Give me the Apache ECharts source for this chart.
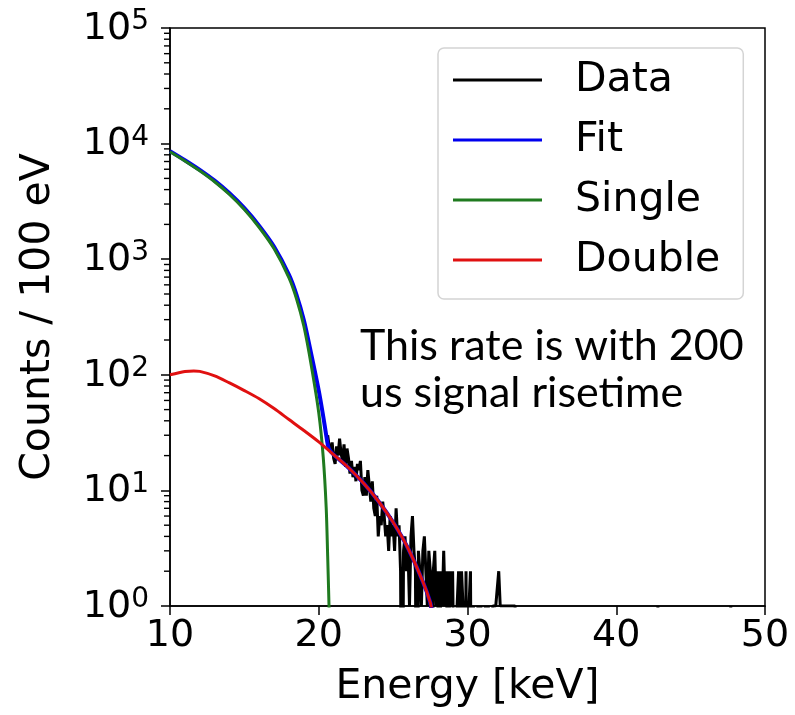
<!DOCTYPE html>
<html>
<head>
<meta charset="utf-8">
<script src="https://cdn.jsdelivr.net/npm/echarts@6/dist/echarts.min.js"></script>
<style>
html,body{margin:0;padding:0;background:#fff;}
#chart{width:795px;height:715px;}
</style>
</head>
<body>
<div id="chart"></div>
<script>
// ---- Data ----
const xTicks = [10, 20, 30, 40, 50];
const yMinorTicks = [2,3,4,5,6,7,8,9,20,30,40,50,60,70,80,90,200,300,400,500,600,700,800,900,
  2000,3000,4000,5000,6000,7000,8000,9000,20000,30000,40000,50000,60000,70000,80000,90000];

// Single (green) curve: energy [keV], counts
const singleE = [10, 11, 12, 13, 14, 15, 16, 17, 18, 18.5, 19, 19.5, 20, 20.3, 20.5, 20.6, 20.7];
const singleV = [8510, 7080, 5820, 4680, 3630, 2690, 1880, 1230, 690, 457, 263, 120, 47, 19.5, 7.1, 2.7, 0.9];

// Double (red) curve
const doubleE = [10, 11, 11.6, 12, 13, 14, 15, 16, 17, 18, 19, 20, 21, 22, 23, 24, 25, 26, 27, 27.5, 27.6];
const doubleV = [100, 107, 108, 107, 98, 85, 73, 62, 51, 41, 33, 26.3, 20.4, 15.7, 11.6, 8.1, 5.3, 3.16, 1.62, 1.07, 0.9];

// Fit (blue) curve
const fitE = [10, 11, 12, 13, 14, 15, 16, 17, 18, 18.5, 19, 19.5, 20, 20.3, 20.5, 20.6, 20.7, 21, 22, 23, 24, 25, 26, 27, 27.5, 27.6];
const fitV = [8610, 7187, 5927, 4778, 3715, 2763, 1942, 1281, 731, 494, 296, 150, 73, 43.8, 30.1, 25.1, 22.7, 20.4, 15.7, 11.6, 8.1, 5.3, 3.16, 1.62, 1.07, 0.9];

// Data (black) histogram counts per 100 eV bin, starting at 20.6 keV
const dataStart = 20.6;
const dataBin = 0.1;
const dataCounts = [30, 24, 22, 26, 19, 17, 24, 20, 28, 21,
  18, 25, 16, 23, 19, 14, 18, 13, 16, 12,
  17, 15, 18, 10, 9, 13, 9, 15, 11, 8,
  12, 7, 6, 9, 4, 6, 5, 8, 6, 4,
  5, 3, 6, 4, 5, 3, 7, 4, 5, 2,
  0, 3, 4, 2, 3, 1, 4, 6, 3, 2,
  0, 3, 2, 1, 3, 4, 2, 1, 3, 2,
  0, 2, 3, 1, 2, 0, 2, 1, 3, 1,
  2, 0, 2, 1, 2, 2, 0, 1, 2, 0,
  2, 1, 0, 2, 0, 1, 2, 0, 1, 1,
  0, 1, 0, 1, 1, 0, 1, 0, 1, 0,
  0, 1, 1, 1, 1, 2, 1, 1, 1, 1,
  1, 1, 1, 1, 1, 1, 1, 0];
// sparse tail of the data (energy, counts)
const dataTail = [[33.5, 0], [42.7, 0], [42.8, 1], [42.9, 0], [47.6, 0], [47.7, 1], [47.8, 0], [50, 0]];

const annotationLines = ['This rate is with 200', 'us signal risetime'];

// ---- Build series data ----
const ZERO_FLOOR = 0.01; // zero counts drawn below the log axis (clipped)
function pairs(xs, ys) { return xs.map((x, i) => [x, ys[i]]); }
const dataSeries = dataCounts.map((c, i) => [+(dataStart + i * dataBin).toFixed(2), c > 0 ? c : ZERO_FLOOR])
  .concat(dataTail.map(p => [p[0], p[1] > 0 ? p[1] : ZERO_FLOOR]));

const chart = echarts.init(document.getElementById('chart'), null, {renderer: 'canvas'});
const FONT = 'DejaVu Sans';

const textGraphics = [
  {type: 'text', left: 360, top: 325, style: {text: annotationLines[0], font: '43px Lato', fill: '#000'}},
  {type: 'text', left: 360, top: 372, style: {text: annotationLines[1], font: '43px Lato', fill: '#000'}}
];

const option = {
  backgroundColor: '#ffffff',
  animation: false,
  grid: {left: 170, right: 30, top: 28, bottom: 109, show: true, borderColor: '#000', borderWidth: 1.5, backgroundColor: 'transparent'},
  xAxis: {
    type: 'value', min: 10, max: 50, interval: 10,
    name: 'Energy [keV]', nameLocation: 'middle', nameGap: 61,
    nameTextStyle: {fontFamily: FONT, fontSize: 41, color: '#000'},
    axisLine: {show: true, onZero: false, lineStyle: {color: '#000', width: 1.5}},
    axisTick: {show: true, inside: false, length: 9, lineStyle: {color: '#000', width: 1.5}},
    axisLabel: {fontFamily: FONT, fontSize: 38, color: '#000', margin: 11,
      formatter: v => xTicks.includes(v) ? String(v) : ''},
    splitLine: {show: false}
  },
  yAxis: {
    type: 'log', logBase: 10, min: 1, max: 100000,
    name: 'Counts / 100 eV', nameLocation: 'middle', nameGap: 111, nameRotate: 90,
    nameTextStyle: {fontFamily: FONT, fontSize: 41, color: '#000'},
    axisLine: {show: true, lineStyle: {color: '#000', width: 1.5}},
    axisTick: {show: true, inside: false, length: 9, lineStyle: {color: '#000', width: 1.5}},
    axisLabel: {
      margin: 21, color: '#000',
      formatter: function (v) {
        const e = Math.round(Math.log10(v));
        return '{b|10}{s|' + e + '}';
      },
      rich: {
        b: {fontFamily: FONT, fontSize: 38, color: '#000', verticalAlign: 'bottom', lineHeight: 40},
        s: {fontFamily: FONT, fontSize: 28, color: '#000', verticalAlign: 'top', lineHeight: 40, padding: [0, 0, 14, 0]}
      }
    },
    splitLine: {show: false}
  },
  legend: {
    orient: 'vertical', left: 438, top: 48,
    data: [
      {name: 'Data', itemStyle: {color: '#000'}},
      {name: 'Fit', itemStyle: {color: '#0000ee'}},
      {name: 'Single', itemStyle: {color: '#1f7a1f'}},
      {name: 'Double', itemStyle: {color: '#e01010'}}
    ],
    icon: 'rect', itemWidth: 89, itemHeight: 3, itemGap: 16,
    padding: [10, 23, 17, 15],
    backgroundColor: '#fff', borderColor: '#d4d4d4', borderWidth: 1.5, borderRadius: 6,
    textStyle: {fontFamily: FONT, fontSize: 41, color: '#000', lineHeight: 44, padding: [0, 0, 0, 28]}
  },
  series: [
    {name: 'Data', type: 'line', data: dataSeries, showSymbol: false, smooth: false,
      lineStyle: {color: '#000', width: 3}, itemStyle: {color: '#000'}, clip: true, z: 2},
    {name: 'Fit', type: 'line', data: pairs(fitE, fitV), showSymbol: false, smooth: 0.3,
      lineStyle: {color: '#0000ee', width: 4}, itemStyle: {color: '#0000ee'}, clip: true, z: 3},
    {name: 'Single', type: 'line', data: pairs(singleE, singleV), showSymbol: false, smooth: 0.3,
      lineStyle: {color: '#1f7a1f', width: 3}, itemStyle: {color: '#1f7a1f'}, clip: true, z: 4},
    {name: 'Double', type: 'line', data: pairs(doubleE, doubleV), showSymbol: false, smooth: 0.3,
      lineStyle: {color: '#e01010', width: 3}, itemStyle: {color: '#e01010'}, clip: true, z: 5}
  ],
  graphic: textGraphics
};
chart.setOption(option);

// Minor ticks on the log axis, positioned through the chart's own y scale
const minorTickGraphics = yMinorTicks.map(function (v) {
  const p = chart.convertToPixel({gridIndex: 0}, [10, v]);
  return {type: 'line', silent: true, z: 100,
    shape: {x1: p[0] - 6, y1: p[1], x2: p[0], y2: p[1]},
    style: {stroke: '#000', lineWidth: 1.4}};
});
chart.setOption({graphic: textGraphics.concat(minorTickGraphics)});
</script>
</body>
</html>
